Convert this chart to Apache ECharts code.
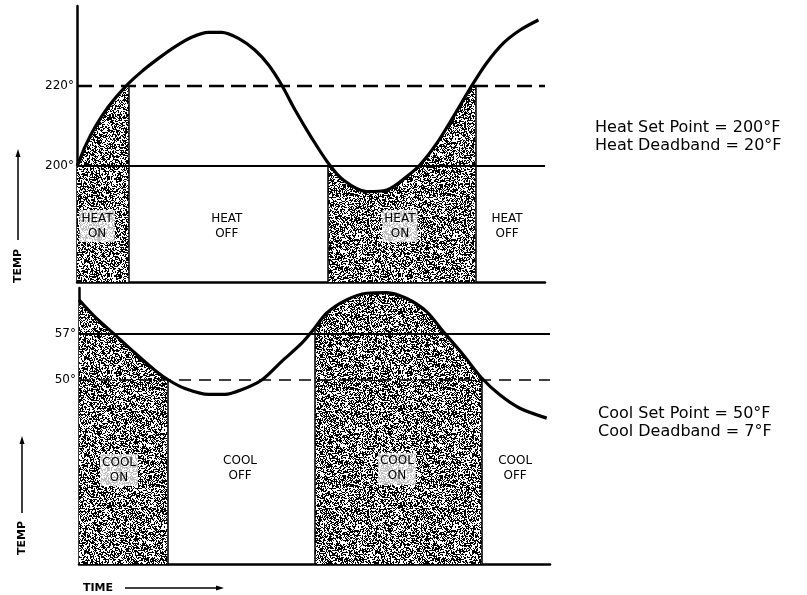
<!DOCTYPE html>
<html>
<head>
<meta charset="utf-8">
<script src="https://cdn.jsdelivr.net/npm/echarts@6/dist/echarts.min.js"></script>
<style>
  html, body { margin: 0; padding: 0; background: #fff; }
  #container { width: 807px; height: 595px; }
</style>
</head>
<body>
<div id="container"></div>
<script>
// heating cycle (top panel), time is in arbitrary units 0..100
const heatTime = [0, 0.3, 1.7, 3.9, 6.7, 10.3, 13.8, 17.4, 20.9, 24.5, 28.1, 30.9, 34.5, 38.0, 40.9, 43.7, 46.6, 50.0, 53.7, 56.9, 61.9, 66.2, 70.4, 73.3, 76.9, 80.4, 84.7, 87.5, 91.1, 94.7, 98.6]
const heatTemp = [200, 200.7, 204.8, 209.8, 214.8, 219.8, 223.6, 226.9, 229.8, 232.2, 233.4, 233.4, 231.9, 229, 225.3, 220.3, 214, 207.3, 200.7, 196.5, 193.6, 194, 197.3, 200.3, 205.7, 212.3, 220.7, 225.7, 230.7, 234, 236.5]
const heatSolid = 200   // set point
const heatDashed = 220  // set point + deadband
const heatTicks = [200, 220]
// on intervals [from, to] and the temperature at each edge
const heatOn = [[0, 11.1], [53.6, 85.2]]
const heatOnEdge = [[200, 220], [200, 220]]
const heatCap = 220
const heatRegionText = ['HEAT\nON', 'HEAT\nOFF', 'HEAT\nON', 'HEAT\nOFF']
const heatRegionTime = [4.3, 32, 69, 91.9]
const heatRegionTemp = [185, 185, 185, 185]

// cooling cycle (bottom panel)
const coolTime = [0, 3.4, 7.6, 11.9, 16.1, 19.0, 22.5, 27.5, 31.0, 34.5, 38.8, 43.0, 47.3, 49.7, 52.6, 56.8, 61.1, 65.3, 69.6, 73.8, 77.3, 81.6, 85.5, 89.4, 93.6, 99.3]
const coolTemp = [62.2, 59.6, 56.9, 54.1, 51.5, 50, 48.7, 47.8, 47.8, 48.5, 50, 52.8, 55.6, 57.6, 60.2, 62.2, 63.2, 63.3, 62.4, 60.4, 57.4, 53.8, 50.3, 47.7, 45.7, 44.2]
const coolSolid = 57   // set point + deadband
const coolDashed = 50  // set point
const coolTicks = [50, 57]
const coolOn = [[0, 18.8], [50.1, 85.6]]
const coolOnEdge = [[62.2, 50], [57.6, 50]]
const coolCap = Infinity
const coolRegionText = ['COOL\nON', 'COOL\nOFF', 'COOL\nON', 'COOL\nOFF']
const coolRegionTime = [8.5, 34.2, 67.5, 92.6]
const coolRegionTemp = [36.3, 36.5, 36.5, 36.5]

const heatNotes = ['Heat Set Point = 200°F', 'Heat Deadband = 20°F']
const coolNotes = ['Cool Set Point = 50°F', 'Cool Deadband = 7°F']

// stipple texture for the "on" areas (deterministic hash, not data)
function stipple () {
  const c = document.createElement('canvas')
  c.width = 97
  c.height = 97
  const ctx = c.getContext('2d')
  ctx.fillStyle = '#fff'
  ctx.fillRect(0, 0, c.width, c.height)
  ctx.fillStyle = '#000'
  for (let y = 0; y < c.height; y++) {
    for (let x = 0; x < c.width; x++) {
      let h = (x * 374761393 + y * 668265263) | 0
      h = Math.imul(h ^ (h >>> 13), 1274126177)
      h = (h ^ (h >>> 16)) >>> 0
      if ((h % 1000) < 520) ctx.fillRect(x, y, 1, 1)
    }
  }
  return { image: c, repeat: 'repeat' }
}
const pattern = stipple()

function shadeData (time, temp, from, to, edge, cap) {
  const pts = [[from, edge[0]]]
  time.forEach((t, i) => {
    if (t > from && t < to) pts.push([t, Math.min(temp[i], cap)])
  })
  pts.push([to, edge[1]])
  return pts
}

function panelSeries (idx, p) {
  const series = []
  p.on.forEach((iv, k) => {
    series.push({
      type: 'line',
      xAxisIndex: idx,
      yAxisIndex: idx,
      data: shadeData(p.time, p.temp, iv[0], iv[1], p.onEdge[k], p.cap),
      smooth: 0.3,
      showSymbol: false,
      silent: true,
      z: 1,
      lineStyle: { width: 0 },
      areaStyle: { color: pattern, opacity: 1, origin: 'start' }
    })
  })
  const edges = []
  p.on.forEach((iv, k) => {
    if (iv[0] > 0) edges.push([{ coord: [iv[0], p.yMin] }, { coord: [iv[0], p.onEdge[k][0]] }])
    edges.push([{ coord: [iv[1], p.yMin] }, { coord: [iv[1], p.onEdge[k][1]] }])
  })
  series.push({
    type: 'line',
    xAxisIndex: idx,
    yAxisIndex: idx,
    data: p.time.map((t, i) => [t, p.temp[i]]),
    smooth: 0.3,
    showSymbol: false,
    z: 5,
    lineStyle: { color: '#000', width: 3.2 },
    markLine: {
      silent: true,
      symbol: 'none',
      label: { show: false },
      data: [
        { yAxis: p.solid, lineStyle: { color: '#000', width: idx === 0 ? 2 : 1.8, type: 'solid' } },
        { yAxis: p.dashed, lineStyle: { color: '#000', width: idx === 0 ? 2.4 : 1.6, type: idx === 0 ? [15, 7] : [12, 8] } }
      ].concat(edges.map(e => [
        Object.assign({ lineStyle: { color: '#000', width: 1.5, type: 'solid' } }, e[0]), e[1]
      ]))
    }
  })
  return series
}

const axisLabelStyle = { color: '#000', fontFamily: 'DejaVu Sans', fontSize: 12, margin: 3 }

const graphics = [
  // TEMP arrows
  { type: 'text', x: 18, y: 266, rotation: Math.PI / 2,
    style: { text: 'TEMP', font: 'bold 11px DejaVu Sans', fill: '#000', align: 'center', verticalAlign: 'middle' } },
  { type: 'line', shape: { x1: 18, y1: 240, x2: 18, y2: 155 }, style: { stroke: '#000', lineWidth: 1.5 } },
  { type: 'polygon', shape: { points: [[18, 149], [15.5, 157], [20.5, 157]] }, style: { fill: '#000' } },
  { type: 'text', x: 22, y: 538, rotation: Math.PI / 2,
    style: { text: 'TEMP', font: 'bold 11px DejaVu Sans', fill: '#000', align: 'center', verticalAlign: 'middle' } },
  { type: 'line', shape: { x1: 22, y1: 513, x2: 22, y2: 442 }, style: { stroke: '#000', lineWidth: 1.5 } },
  { type: 'polygon', shape: { points: [[22, 436], [19.5, 444], [24.5, 444]] }, style: { fill: '#000' } },
  // TIME arrow
  { type: 'text', x: 83, y: 588,
    style: { text: 'TIME', font: 'bold 11px DejaVu Sans', fill: '#000', align: 'left', verticalAlign: 'middle' } },
  { type: 'line', shape: { x1: 125, y1: 588, x2: 218, y2: 588 }, style: { stroke: '#000', lineWidth: 1.5 } },
  { type: 'polygon', shape: { points: [[224, 588], [216, 585.5], [216, 590.5]] }, style: { fill: '#000' } },
  // notes
  { type: 'text', x: 595, y: 128,
    style: { text: heatNotes[0], font: '16px DejaVu Sans', fill: '#000', verticalAlign: 'middle' } },
  { type: 'text', x: 595, y: 146,
    style: { text: heatNotes[1], font: '16px DejaVu Sans', fill: '#000', verticalAlign: 'middle' } },
  { type: 'text', x: 598, y: 414,
    style: { text: coolNotes[0], font: '16px DejaVu Sans', fill: '#000', verticalAlign: 'middle' } },
  { type: 'text', x: 598, y: 432,
    style: { text: coolNotes[1], font: '16px DejaVu Sans', fill: '#000', verticalAlign: 'middle' } }
]

const option = {
  animation: false,
  backgroundColor: '#fff',
  grid: [
    { left: 77, top: 6, width: 468, height: 276 },
    { left: 79, top: 288, width: 471, height: 276 }
  ],
  xAxis: [0, 1].map(i => ({
    type: 'value',
    gridIndex: i,
    min: 0,
    max: 100,
    axisLine: { lineStyle: { color: '#000', width: 2.5 } },
    axisTick: { show: false },
    axisLabel: { show: false },
    splitLine: { show: false }
  })),
  yAxis: [
    {
      type: 'value',
      gridIndex: 0,
      min: 171,
      max: 240,
      axisLine: { show: true, lineStyle: { color: '#000', width: 2.5 } },
      axisTick: { show: false },
      splitLine: { show: false },
      axisLabel: Object.assign({ customValues: heatTicks, formatter: v => v + '°' }, axisLabelStyle)
    },
    {
      type: 'value',
      gridIndex: 1,
      min: 22,
      max: 64,
      axisLine: { show: true, lineStyle: { color: '#000', width: 2.5 } },
      axisTick: { show: false },
      splitLine: { show: false },
      axisLabel: Object.assign({ customValues: coolTicks, formatter: v => v + '°' }, axisLabelStyle)
    }
  ],
  series: [].concat(
    panelSeries(0, {
      time: heatTime, temp: heatTemp, on: heatOn, onEdge: heatOnEdge, cap: heatCap,
      solid: heatSolid, dashed: heatDashed, yMin: 171
    }),
    panelSeries(1, {
      time: coolTime, temp: coolTemp, on: coolOn, onEdge: coolOnEdge, cap: coolCap,
      solid: coolSolid, dashed: coolDashed, yMin: 22
    })
  ),
  graphic: graphics
}

const myChart = echarts.init(document.getElementById('container'))
myChart.setOption(option)

// region captions, placed through the chart's own axes
function captions (gridIndex, texts, times, temps) {
  return texts.map((s, i) => {
    const pt = myChart.convertToPixel({ gridIndex }, [times[i], temps[i]])
    const onStipple = i % 2 === 0
    return {
      type: 'text',
      x: pt[0],
      y: pt[1],
      z: 100,
      style: {
        text: s,
        font: '12px DejaVu Sans',
        lineHeight: 15,
        fill: '#000',
        align: 'center',
        verticalAlign: 'middle',
        backgroundColor: onStipple ? 'rgba(255,255,255,0.75)' : null,
        padding: onStipple ? [1, 2] : 0
      }
    }
  })
}
myChart.setOption({
  graphic: graphics.concat(
    captions(0, heatRegionText, heatRegionTime, heatRegionTemp),
    captions(1, coolRegionText, coolRegionTime, coolRegionTemp)
  )
})
</script>
</body>
</html>
